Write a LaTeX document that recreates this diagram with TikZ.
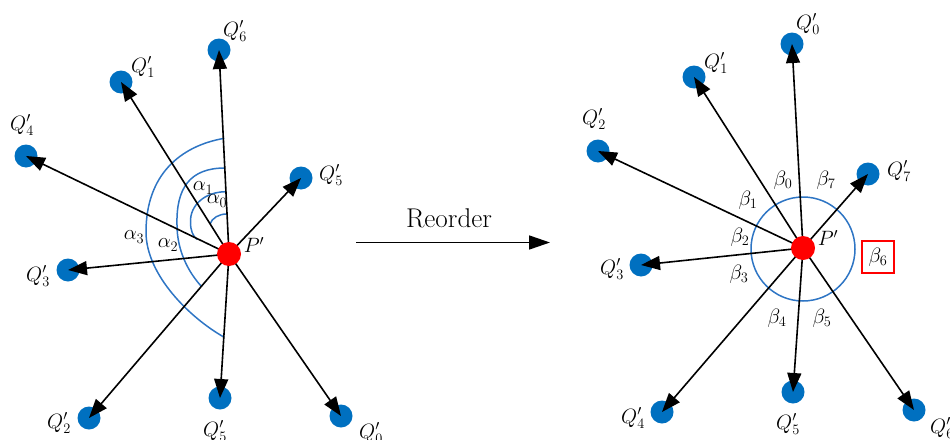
\documentclass[tikz,border=0pt]{standalone}
\usetikzlibrary{arrows.meta}
\definecolor{qblue}{RGB}{0,112,192}
\definecolor{arcblue}{RGB}{46,117,196}
\begin{document}
\begin{tikzpicture}[x=1pt,y=-1pt,
  qdot/.style={circle,fill=qblue,inner sep=0pt,minimum size=23pt},
  pdot/.style={circle,fill=red,inner sep=0pt,minimum size=24pt},
  vec/.style={-{Triangle[length=19pt,width=14pt]},line width=1.6pt},
  lbl/.style={inner sep=0pt,font=\huge},
  glbl/.style={inner sep=0pt,font=\huge},
  arcl/.style={draw=arcblue,line width=1.5pt}]
\useasboundingbox (0,0) rectangle (950,439);
% ---------- left panel ----------
\node[qdot] (a6) at (219,50) {};
\node[qdot] (a1) at (121,82) {};
\node[qdot] (a4) at (26,156) {};
\node[qdot] (a5u) at (301,178) {};
\node[qdot] (a3) at (68,270) {};
\node[qdot] (a2) at (89,418) {};
\node[qdot] (a5d) at (220,398) {};
\node[qdot] (a0) at (341,416) {};
\coordinate (PL) at (229,254);
\draw[arcl] (224.3,138.3) .. controls (180,146) and (146,175) .. (146,232)
                          .. controls (146,275) and (190,318) .. (224.3,337.3);
\draw[arcl] (225,168) .. controls (190,168) and (176,188) .. (177,225)
                      .. controls (177,250) and (188,272) .. (201.7,286.7);
\draw[arcl] (225.5,191.7) .. controls (205,192) and (190,205) .. (190.5,222)
                          .. controls (190.5,231) and (193,236) .. (197,239.5);
\draw[arcl] (226.7,214) .. controls (219,214) and (212,218) .. (210,224);
\foreach \q in {a6,a1,a4,a5u,a3,a2,a5d,a0} \draw[vec] (PL) -- (\q.center);
\node[pdot] (pl) at (PL) {};
\node[lbl] (la6) at (235,31) {$Q'_6$};
\node[lbl] (la1) at (143,67) {$Q'_1$};
\node[lbl] (la4) at (22,125) {$Q'_4$};
\node[lbl] (la5u) at (331,175) {$Q'_5$};
\node[lbl] (la3) at (38,276) {$Q'_3$};
\node[lbl] (la2) at (59,423) {$Q'_2$};
\node[lbl] (la5d) at (215,431) {$Q'_5$};
\node[lbl] (la0) at (371,433) {$Q'_0$};
\node[lbl] (lpl) at (254,245) {$P'$};
\node[glbl] (al0) at (217,201) {$\alpha_0$};
\node[glbl] (al1) at (203,188) {$\alpha_1$};
\node[glbl] (al2) at (168,245) {$\alpha_2$};
\node[glbl] (al3) at (134,237) {$\alpha_3$};
% ---------- middle arrow ----------
\coordinate (m1) at (356,242.5);
\coordinate (m2) at (550,242.5);
\draw[-{Triangle[length=21pt,width=14pt]},line width=1.6pt] (m1) -- (m2);
\node[inner sep=0pt] (reo) at (449,218) {\scalebox{1.09}{\Huge Reorder}};
% ---------- right panel ----------
\node[qdot] (b0) at (792,44) {};
\node[qdot] (b1) at (694,77) {};
\node[qdot] (b2) at (598,151) {};
\node[qdot] (b7) at (868,174) {};
\node[qdot] (b3) at (641,265) {};
\node[qdot] (b4) at (662,412) {};
\node[qdot] (b5) at (793,392) {};
\node[qdot] (b6) at (914,410) {};
\coordinate (PR) at (803,248);
\draw[arcl] (803,249) circle[radius=52];
\foreach \q in {b0,b1,b2,b7,b3,b4,b5,b6} \draw[vec] (PR) -- (\q.center);
\node[pdot] (pr) at (PR) {};
\node[lbl] (lb0) at (808,24) {$Q'_0$};
\node[lbl] (lb1) at (716,63) {$Q'_1$};
\node[lbl] (lb2) at (594,119) {$Q'_2$};
\node[lbl] (lb7) at (899,171) {$Q'_7$};
\node[lbl] (lb3) at (612,269) {$Q'_3$};
\node[lbl] (lb4) at (633,418) {$Q'_4$};
\node[lbl] (lb5) at (788,424) {$Q'_5$};
\node[lbl] (lb6) at (942,428) {$Q'_6$};
\node[lbl] (lpr) at (828,238) {$P'$};
\node[glbl] (be0) at (783,180) {$\beta_0$};
\node[glbl] (be7) at (826,180) {$\beta_7$};
\node[glbl] (be1) at (748,200) {$\beta_1$};
\node[glbl] (be2) at (740,237) {$\beta_2$};
\node[glbl] (be3) at (739,274) {$\beta_3$};
\node[glbl] (be4) at (777,318) {$\beta_4$};
\node[glbl] (be5) at (822,318) {$\beta_5$};
\node[glbl,draw=red,line width=2pt,minimum width=32pt,minimum height=32pt] (be6) at (878,257) {$\beta_6$};
\end{tikzpicture}
\end{document}
